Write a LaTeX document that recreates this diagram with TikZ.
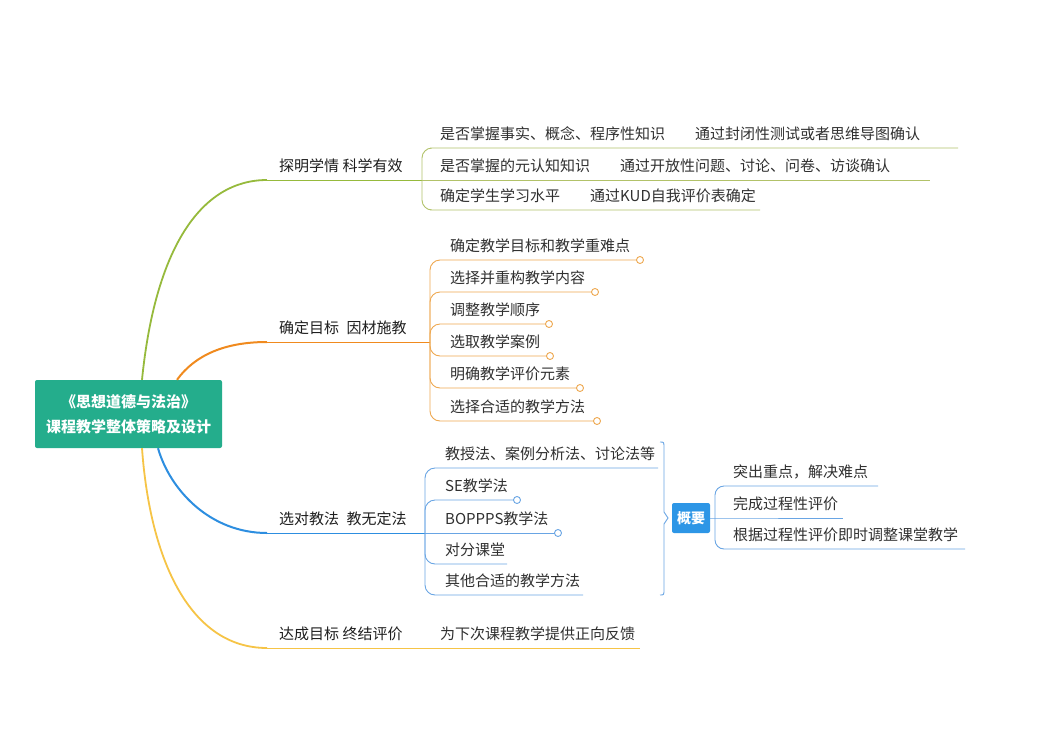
\documentclass[tikz,border=0pt]{standalone}
\usepackage{fontspec}
\setmainfont{Noto Sans CJK SC}
\usepackage{tikz}
\usetikzlibrary{positioning}

\definecolor{rootteal}{RGB}{36,173,140}
\definecolor{brgreen}{RGB}{150,186,60}
\definecolor{subgreen}{RGB}{178,194,105}
\definecolor{brorange}{RGB}{240,138,30}
\definecolor{suborange}{RGB}{238,168,80}
\definecolor{brblue}{RGB}{45,142,224}
\definecolor{subblue}{RGB}{105,165,228}
\definecolor{bryellow}{RGB}{246,196,70}
\definecolor{sumblue}{RGB}{45,150,230}
\definecolor{txtgray}{RGB}{48,48,48}

\tikzset{
  rootbox/.style={fill=rootteal, rounded corners=2pt, minimum width=187pt, minimum height=68pt,
    align=center, text=white, font=\fontsize{15}{25}\selectfont\bfseries},
  lbl/.style={anchor=south west, inner xsep=0pt, inner ysep=7pt, text=black!88,
    font=\fontsize{15}{18}\selectfont},
  itm/.style={anchor=south west, inner xsep=0pt, inner ysep=7pt, text=txtgray,
    font=\fontsize{15}{18}\selectfont},
  subln/.style={line width=0.9pt},
  endpt/.style={fill=white, line width=0.9pt},
  sumbox/.style={fill=sumblue, rounded corners=2pt, minimum width=38pt, minimum height=30pt,
    inner sep=0pt, text=white, font=\fontsize{14}{16}\selectfont\bfseries},
}

\begin{document}
\begin{tikzpicture}[x=1pt,y=-1pt]
\fill[white] (0,0) rectangle (1060,734);
\useasboundingbox (0,0) rectangle (1060,734);

\node[rootbox] (root) at (128.5,414) {《思想道德与法治》\\课程教学整体策略及设计};

% branch 1
\coordinate (r1) at ([xshift=13.5pt]root.north);
\coordinate (b1) at (267,180);
\coordinate (f1) at (422,180);
\draw[brgreen,line width=1.8pt] (r1) .. controls (155,250) and (200,180) .. (b1);
\draw[brgreen,line width=1pt] (b1) -- (f1);
\node[lbl] (l1) at (279,180) {探明学情 科学有效};
\node[itm] (t1a) at (440,148) {是否掌握事实、概念、程序性知识\quad\quad 通过封闭性测试或者思维导图确认};
\node[itm] (t1b) at (440,180) {是否掌握的元认知知识\quad\quad 通过开放性问题、讨论、问卷、访谈确认};
\node[itm] (t1c) at (440,210) {确定学生学习水平\quad\quad 通过KUD自我评价表确定};
\coordinate (e1a) at (958,148);
\coordinate (e1b) at (930,180);
\coordinate (e1c) at (760,210);
\draw[subgreen,subln,rounded corners=10pt] (f1) |- (t1a.south west) -- (e1a);
\draw[subgreen,subln] (f1) -- (e1b);
\draw[subgreen,subln,rounded corners=10pt] (f1) |- (t1c.south west) -- (e1c);

% branch 2
\coordinate (r2) at ([xshift=48.5pt]root.north);
\coordinate (b2) at (267,342);
\coordinate (f2) at (430,342);
\draw[brorange,line width=2pt] (r2) .. controls (195,355) and (225,342) .. (b2);
\draw[brorange,line width=1pt] (b2) -- (f2);
\node[lbl] (l2) at (279,342) {确定目标\enspace 因材施教};
\node[itm] (t2a) at (450,260) {确定教学目标和教学重难点};
\node[itm] (t2b) at (450,292) {选择并重构教学内容};
\node[itm] (t2c) at (450,324) {调整教学顺序};
\node[itm] (t2d) at (450,356) {选取教学案例};
\node[itm] (t2e) at (450,388) {明确教学评价元素};
\node[itm] (t2f) at (450,421) {选择合适的教学方法};
\coordinate (e2a) at (640,260);
\coordinate (e2b) at (595,292);
\coordinate (e2c) at (549,324);
\coordinate (e2d) at (550,356);
\coordinate (e2e) at (580,388);
\coordinate (e2f) at (597,421);
\foreach \t/\e in {t2a/e2a,t2b/e2b,t2c/e2c,t2d/e2d,t2e/e2e,t2f/e2f}
  \draw[suborange,subln,rounded corners=10pt] (f2) |- (\t.south west) -- (\e);
\foreach \e in {e2a,e2b,e2c,e2d,e2e,e2f}
  \draw[endpt,draw=suborange] (\e) circle (3.5pt);

% branch 3
\coordinate (r3) at ([xshift=29.5pt]root.south);
\coordinate (b3) at (267,533);
\coordinate (f3) at (425,533);
\draw[brblue,line width=2pt] (r3) .. controls (170,490) and (210,533) .. (b3);
\draw[brblue,line width=1pt] (b3) -- (f3);
\node[lbl] (l3) at (279,533) {选对教法\enspace 教无定法};
\node[itm] (t3a) at (445,468) {教授法、案例分析法、讨论法等};
\node[itm] (t3b) at (445,500) {SE教学法};
\node[itm] (t3c) at (445,533) {BOPPPS教学法};
\node[itm] (t3d) at (445,564) {对分课堂};
\node[itm] (t3e) at (445,595) {其他合适的教学方法};
\coordinate (e3a) at (658,468);
\coordinate (e3b) at (517,500);
\coordinate (e3c) at (558,533);
\coordinate (e3d) at (507,564);
\coordinate (e3e) at (583,595);
\foreach \t/\e in {t3a/e3a,t3b/e3b,t3d/e3d,t3e/e3e}
  \draw[subblue,subln,rounded corners=10pt] (f3) |- (\t.south west) -- (\e);
\draw[subblue,subln] (f3) -- (e3c);
\foreach \e in {e3b,e3c}
  \draw[endpt,draw=subblue] (\e) circle (3.5pt);

% summary
\draw[subblue,subln] (660,442) .. controls (664,442) .. (664,448) -- (664,512) -- (668,518)
  -- (664,524) -- (664,589) .. controls (664,595) .. (660,595);
\node[sumbox] (sum) at (691,518) {概要};
\coordinate (fs) at (715,518);
\node[itm] (s1) at (733,486) {突出重点，解决难点};
\node[itm] (s2) at (733,518) {完成过程性评价};
\node[itm] (s3) at (733,549) {根据过程性评价即时调整课堂教学};
\coordinate (es1) at (878,486);
\coordinate (es2) at (843,518);
\coordinate (es3) at (965,549);
\draw[subblue,subln] (sum.east) -- (fs) -- (es2);
\draw[subblue,subln,rounded corners=9pt] (fs) |- (s1.south west) -- (es1);
\draw[subblue,subln,rounded corners=9pt] (fs) |- (s3.south west) -- (es3);

% branch 4
\coordinate (r4) at ([xshift=13.5pt]root.south);
\coordinate (b4) at (267,648);
\coordinate (e4) at (640,648);
\draw[bryellow,line width=1.8pt] (r4) .. controls (150,560) and (190,648) .. (b4);
\draw[bryellow,line width=1pt] (b4) -- (e4);
\node[lbl] (l4) at (279,648) {达成目标 终结评价};
\node[itm] (t4) at (440,648) {为下次课程教学提供正向反馈};
\end{tikzpicture}
\end{document}
